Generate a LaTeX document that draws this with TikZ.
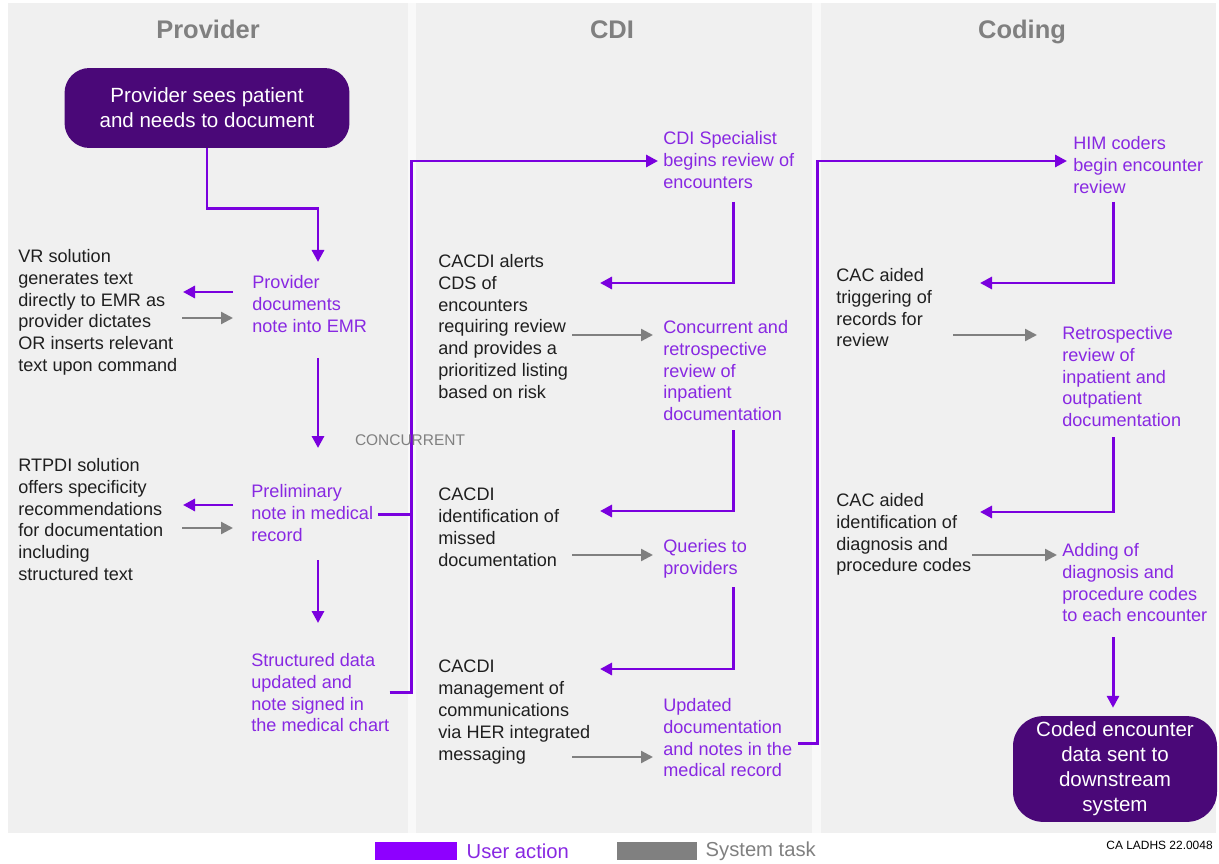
\documentclass[tikz,border=0pt]{standalone}
\usepackage{fontspec}
\setmainfont{Liberation Sans}
\usepackage{xcolor}
\usepackage{tikz}
\usetikzlibrary{calc}
\usetikzlibrary{arrows.meta}
\usetikzlibrary{positioning}
\definecolor{useract}{RGB}{122,0,222}
\definecolor{usertext}{RGB}{136,40,226}
\definecolor{userbar}{RGB}{142,0,255}
\definecolor{systask}{RGB}{128,128,128}
\definecolor{termfill}{RGB}{74,8,120}
\definecolor{lanefill}{RGB}{240,240,240}
\definecolor{lanegap}{RGB}{249,249,249}
\tikzset{>={Triangle[length=0.24cm, width=0.24cm]}}
\tikzstyle{usr} = [draw=useract, line width=1.7pt]
\tikzstyle{sys} = [->, draw=systask, line width=1.3pt]
\tikzstyle{act} = [draw=none, inner sep = 0, anchor=north west, align=left, text=usertext, font=\fontsize{10.3}{12.4}\selectfont]
\tikzstyle{task} = [act, text=black!88]
\tikzstyle{term} = [rectangle, fill=termfill, text=white, align=center, font=\fontsize{11.7}{14.2}\selectfont]
\tikzstyle{head} = [draw=none, anchor=base, text=systask, font=\fontsize{14.5}{17}\selectfont\bfseries]

\begin{document}
\begin{tikzpicture}[x=0.02cm, y=-0.02cm]
\useasboundingbox (0,0) rectangle (1219,864);
% swim lanes
\fill [lanefill] (8,3) rectangle (1216,833);
\fill [lanegap] (408,3) rectangle (416,833);
\fill [lanegap] (812,3) rectangle (821,833);
\node [head] (HP) at (208, 39) {Provider};
\node [head] (HD) at (612, 39) {CDI};
\node [head] (HC) at (1022, 39) {Coding};

% provider lane
\node [term, rounded corners = 0.5cm, minimum width = 5.7cm, minimum height = 1.6cm] (S) at (207, 108) {Provider sees patient\\and needs to document};
\node [act] (PD) at (252, 275) {Provider\\documents\\note into EMR};
\node [task] (VR) at (18, 249) {VR solution\\generates text\\directly to EMR as\\provider dictates\\OR inserts relevant\\text upon command};
\node [act] (PN) at (251, 484) {Preliminary\\note in medical\\record};
\node [task] (RT) at (18, 458) {RTPDI solution\\offers specificity\\recommendations\\for documentation\\including\\structured text};
\node [act] (SD) at (251, 653) {Structured data\\updated and\\note signed in\\the medical chart};

% CDI lane
\node [act] (CS) at (663, 131) {CDI Specialist\\begins review of\\encounters};
\node [task] (CA) at (438, 254) {CACDI alerts\\CDS of\\encounters\\requiring review\\and provides a\\prioritized listing\\based on risk};
\node [act] (CR) at (663, 320) {Concurrent and\\retrospective\\review of\\inpatient\\documentation};
\node [task] (CI) at (438, 488) {CACDI\\identification of\\missed\\documentation};
\node [act] (QP) at (663, 539) {Queries to\\providers};
\node [task] (CM) at (438, 660) {CACDI\\management of\\communications\\via HER integrated\\messaging};
\node [act] (UD) at (663, 698) {Updated\\documentation\\and notes in the\\medical record};

% coding lane
\node [act] (HM) at (1073, 136) {HIM coders\\begin encounter\\review};
\node [task] (TR) at (836, 268) {CAC aided\\triggering of\\records for\\review};
\node [act] (RR) at (1062, 326) {Retrospective\\review of\\inpatient and\\outpatient\\documentation};
\node [task] (ID) at (836, 493) {CAC aided\\identification of\\diagnosis and\\procedure codes};
\node [act] (AD) at (1062, 543) {Adding of\\diagnosis and\\procedure codes\\to each encounter};
\node [term, rounded corners = 0.6cm, minimum width = 4.08cm, minimum height = 2.04cm] (E) at (1115, 769) {Coded encounter\\data sent to\\downstream\\system};

\draw [usr, ->] (S.south) -- ++(0,60) -| ($(PD.north west)+(66,-13)$);
\draw [usr, ->] ($(PD.north west)+(-19,17)$) -- ($(VR.north west)+(165,43)$);
\draw [sys] ($(VR.north west)+(164,69)$) -- ($(PD.north west)+(-19,43)$);
\draw [usr, ->] ($(PD.north west)+(66,83)$) -- ($(PN.north west)+(67,-36)$);
\draw [usr, ->] ($(PN.north west)+(-18,21)$) -- ($(RT.north west)+(165,47)$);
\draw [sys] ($(RT.north west)+(164,70)$) -- ($(PN.north west)+(-18,44)$);
\draw [usr, ->] ($(PN.north west)+(67,76)$) -- ($(SD.north west)+(67,-30)$);
\draw [usr] ($(PN.east)+(5,2)$) -- ++(32,0);
\draw [usr, ->] (SD.east) -- ++(22,0) |- ($(CS.north west)+(-5,30)$);
\node [text=systask, font=\fontsize{8.8}{10}\selectfont] (K) at (410, 440) {CONCURRENT};

\draw [usr, ->] ($(CS.north west)+(70,71)$) |- ($(CA.north west)+(162,29)$);
\draw [sys] ($(CA.north west)+(134,81)$) -- ($(CR.north west)+(-10,15)$);
\draw [usr, ->] ($(CR.north west)+(70,110)$) |- ($(CI.north west)+(162,23)$);
\draw [sys] ($(CI.north west)+(134,67)$) -- ($(QP.north west)+(-10,16)$);
\draw [usr, ->] ($(QP.north west)+(70,48)$) |- ($(CM.north west)+(162,9)$);
\draw [sys] ($(CM.north west)+(134,97)$) -- ($(UD.north west)+(-10,59)$);
\draw [usr, ->] ($(UD.north west)+(135,45)$) -- ++(19,0) |- ($(HM.north west)+(-6,25)$);

\draw [usr, ->] ($(HM.north west)+(40,66)$) |- ($(TR.north west)+(144,15)$);
\draw [sys] ($(TR.north west)+(117,67)$) -- ($(RR.north west)+(-25,9)$);
\draw [usr, ->] ($(RR.north west)+(51,111)$) |- ($(ID.north west)+(144,19)$);
\draw [sys] ($(ID.north west)+(136,62)$) -- ($(AD.north west)+(-5,12)$);
\draw [usr, ->] ($(AD.north west)+(51,94)$) -- ($(E.north)+(-2,-8)$);

% legend
\node [fill=userbar, minimum width = 1.64cm, minimum height = 0.36cm, inner sep = 0] (LU) at (416, 851) {};
\node [right = 0.18cm of LU, inner sep = 0, text=usertext, font=\fontsize{11.5}{13}\selectfont] (TU) {User action};
\node [fill=systask, minimum width = 1.6cm, minimum height = 0.36cm, inner sep = 0] (LS) at (657, 851) {};
\node [right = 0.16cm of LS, inner sep = 0, text=systask, font=\fontsize{11.5}{13}\selectfont] (TS) {System task};
\node [anchor=east, inner sep = 0, font=\fontsize{6.8}{8}\selectfont] (F) at (1213, 845) {CA LADHS 22.0048};
\end{tikzpicture}
\end{document}
